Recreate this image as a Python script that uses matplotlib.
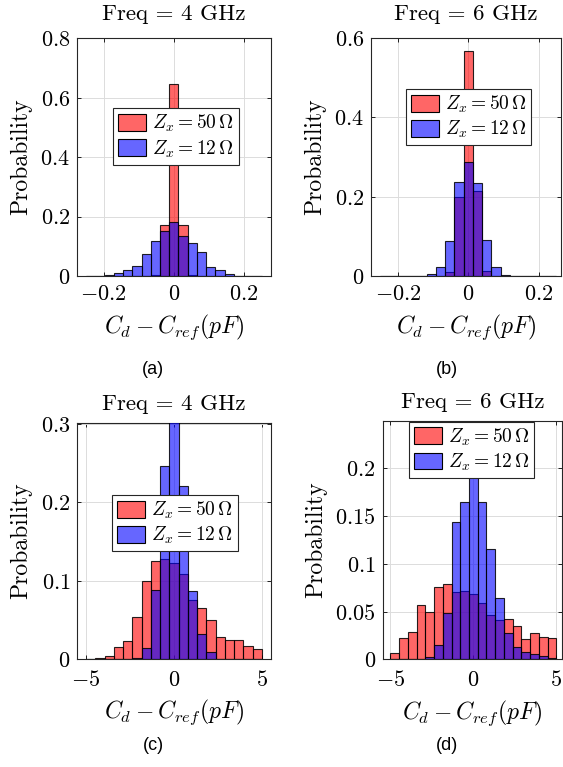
import numpy as np
import matplotlib
matplotlib.use("Agg")
import matplotlib.pyplot as plt
from matplotlib.patches import Patch

plt.rcParams['mathtext.fontset'] = 'cm'
plt.rcParams['axes.unicode_minus'] = False

# ---------------- data (19 bins per panel, symmetric around 0) ----------------
n_bins = 19
lim_top = 0.25      # bin range for panels (a),(b)
lim_bot = 5.0       # bin range for panels (c),(d)

a_red = [0, 0, 0, 0, 0, 0, 0, 0.003, 0.171, 0.645, 0.172, 0.005, 0, 0, 0, 0, 0, 0, 0]
a_blue = [0.001, 0.001, 0.002, 0.011, 0.020, 0.033, 0.0756, 0.117, 0.151, 0.181,
          0.136, 0.112, 0.082, 0.030, 0.020, 0.0056, 0.001, 0.001, 0.001]

b_red = [0, 0, 0, 0, 0, 0, 0, 0.009, 0.198, 0.566, 0.214, 0.013, 0, 0, 0, 0, 0, 0, 0]
b_blue = [0, 0, 0, 0, 0.001, 0.004, 0.022, 0.089, 0.238, 0.288,
          0.235, 0.092, 0.022, 0.003, 0.001, 0, 0, 0, 0]

c_red = [0, 0.001, 0.0038, 0.0145, 0.023, 0.053, 0.100, 0.125, 0.127, 0.123,
         0.109, 0.075, 0.065, 0.050, 0.028, 0.024, 0.024, 0.016, 0.012]
c_blue = [0, 0, 0, 0, 0, 0.001, 0.0137, 0.0885, 0.246, 0.304,
          0.221, 0.087, 0.031, 0.008, 0, 0, 0, 0, 0]

d_red = [0.007, 0.022, 0.029, 0.057, 0.050, 0.076, 0.0787, 0.070, 0.072, 0.068,
         0.059, 0.046, 0.0416, 0.042, 0.035, 0.0217, 0.028, 0.023, 0.022]
d_blue = [0, 0, 0, 0, 0.002, 0.0147, 0.049, 0.144, 0.165, 0.22,
          0.165, 0.1156, 0.064, 0.028, 0.013, 0.008, 0.006, 0.003, 0.001]

titles = ["Freq = 4 GHz", "Freq = 6 GHz", "Freq = 4 GHz", "Freq = 6 GHz"]
panel_labels = ["(a)", "(b)", "(c)", "(d)"]
legend_labels = [r"$Z_x = 50\,\Omega$", r"$Z_x = 12\,\Omega$"]
xlabel = r"$C_d - C_{ref}(pF)$"
ylabel = "Probability"

xticks_top = [-0.2, 0, 0.2]
xticklabels_top = ["$-0.2$", "$0$", "$0.2$"]
xticks_bot = [-5, 0, 5]
xticklabels_bot = ["$-5$", "$0$", "$5$"]
yticks_a = [0, 0.2, 0.4, 0.6, 0.8]
yticklabels_a = ["$0$", "$0.2$", "$0.4$", "$0.6$", "$0.8$"]
yticks_b = [0, 0.2, 0.4, 0.6]
yticklabels_b = ["$0$", "$0.2$", "$0.4$", "$0.6$"]
yticks_c = [0, 0.1, 0.2, 0.3]
yticklabels_c = ["$0$", "$0.1$", "$0.2$", "$0.3$"]
yticks_d = [0, 0.05, 0.1, 0.15, 0.2]
yticklabels_d = ["$0$", "$0.05$", "$0.1$", "$0.15$", "$0.2$"]

# ---------------- figure ----------------
W, H = 563, 767
fig = plt.figure(figsize=(W / 100, H / 100), dpi=100)

def frac(l, r, t, b):
    return [l / W, 1 - b / H, (r - l) / W, (b - t) / H]

panels = [
    dict(pos=frac(77, 270.7, 38, 276), red=a_red, blue=a_blue, lim=lim_top,
         xlim=(-0.276, 0.276), ylim=(0, 0.8), xt=xticks_top, xtl=xticklabels_top,
         yt=yticks_a, ytl=yticklabels_a, leg=(113.3, 108.3), lab=(153, 369),
         tpad=13, xpad=6, lpad=6),
    dict(pos=frac(371, 561, 38, 276), red=b_red, blue=b_blue, lim=lim_top,
         xlim=(-0.277, 0.264), ylim=(0, 0.6), xt=xticks_top, xtl=xticklabels_top,
         yt=yticks_b, ytl=yticklabels_b, leg=(406, 89), lab=(447, 369),
         tpad=13, xpad=6, lpad=6),
    dict(pos=frac(77.3, 270.7, 422.7, 658.7), red=c_red, blue=c_blue, lim=lim_bot,
         xlim=(-5.5, 5.5), ylim=(0, 0.302), xt=xticks_bot, xtl=xticklabels_bot,
         yt=yticks_c, ytl=yticklabels_c, leg=(112.3, 495), lab=(153, 746),
         tpad=9, xpad=8, lpad=5.5),
    dict(pos=frac(382.7, 562, 420.7, 659.3), red=d_red, blue=d_blue, lim=lim_bot,
         xlim=(-5.46, 5.34), ylim=(0, 0.25), xt=xticks_bot, xtl=xticklabels_bot,
         yt=yticks_d, ytl=yticklabels_d, leg=(409, 421.7), lab=(447, 746),
         tpad=9, xpad=8, lpad=5.5),
]

red_face = (1, 0, 0, 0.6)
blue_face = (0, 0, 1, 0.6)
edge = (0, 0, 0, 0.85)

for i, p in enumerate(panels):
    ax = fig.add_axes(p['pos'])
    edges = np.linspace(-p['lim'], p['lim'], n_bins + 1)
    centers = (edges[:-1] + edges[1:]) / 2
    w = edges[1] - edges[0]
    ax.bar(centers, p['red'], width=w, color=red_face, edgecolor=edge, linewidth=0.8, zorder=2)
    ax.bar(centers, p['blue'], width=w, color=blue_face, edgecolor=edge, linewidth=0.8, zorder=3)
    ax.set_xlim(*p['xlim'])
    ax.set_ylim(*p['ylim'])
    ax.set_xticks(p['xt'])
    ax.set_xticklabels(p['xtl'])
    ax.set_yticks(p['yt'])
    ax.set_yticklabels(p['ytl'])
    ax.tick_params(direction='in', top=True, right=True, labelsize=16, length=3,
                   width=0.6, pad=5)
    ax.tick_params(axis='x', pad=p['xpad'])
    ax.grid(True, color='#dcdcdc', linewidth=0.7, zorder=0)
    ax.set_axisbelow(True)
    for s in ax.spines.values():
        s.set_linewidth(0.8)
        s.set_color('#262626')
    ax.set_title(titles[i], fontfamily='cmr10', fontsize=16.5, pad=p['tpad'])
    ax.set_xlabel(xlabel, fontsize=17, labelpad=p['lpad'])
    ax.set_ylabel(ylabel, fontfamily='cmr10', fontsize=17, labelpad=6)
    handles = [Patch(facecolor=red_face, edgecolor='black', linewidth=0.8),
               Patch(facecolor=blue_face, edgecolor='black', linewidth=0.8)]
    lx, ly = p['leg']
    leg = ax.legend(handles, legend_labels, loc='upper left',
                    bbox_to_anchor=(lx / W, 1 - ly / H), bbox_transform=fig.transFigure,
                    borderaxespad=0, fontsize=14, fancybox=False, framealpha=1,
                    handlelength=1.45, handleheight=0.95, handletextpad=0.3,
                    borderpad=0.25, labelspacing=0.2)
    leg.get_frame().set_edgecolor('#262626')
    leg.get_frame().set_linewidth(0.8)
    leg.set_zorder(10)
    fig.text(p['lab'][0] / W, 1 - p['lab'][1] / H, panel_labels[i],
             fontfamily='Liberation Sans', fontsize=13, ha='center', va='center')

fig.savefig("out.png", dpi=100)
